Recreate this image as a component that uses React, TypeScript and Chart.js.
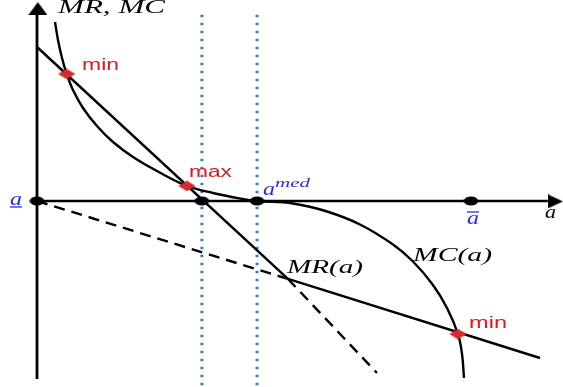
import React, { useEffect, useRef } from 'react';
import { Chart, registerables } from 'chart.js';

Chart.register(...registerables);

// ---- data (units: a-axis, ā = 10) ----
const aMarks = [0, 3.8, 5.07, 10]; // a_, MR=0 crossing, a_med, ā
const aMarksY = [0, 0, 0, 0];

const mcX = [0.415, 0.484, 0.576, 0.684, 0.829, 1.06, 1.382, 1.751, 2.212, 2.765, 3.456, 4.055, 4.677, 5.069, 5.899, 6.682, 7.442, 8.203, 8.664, 9.124, 9.447, 9.7, 9.793, 9.839];
const mcY = [4.124, 3.71, 3.295, 2.926, 2.558, 2.143, 1.728, 1.359, 1.014, 0.691, 0.346, 0.184, 0.058, 0, -0.058, -0.242, -0.541, -1.002, -1.394, -1.935, -2.465, -3.065, -3.525, -4.078];

const steepX = [0, 5.783];
const steepY = [3.548, -1.797];
const steepDashX = [5.783, 7.834];
const steepDashY = [-1.797, -3.963];
const flatDashX = [0, 5.783];
const flatDashY = [0, -1.797];
const flatX = [5.783, 11.59];
const flatY = [-1.797, -3.618];

const extremaX = [0.684, 3.456, 9.7];
const extremaY = [2.926, 0.346, -3.065];

const dottedX = [3.8, 5.07];
const dottedY = [4.29, -4.3];

const yAxisY = [-4.1, 4.36];
const xAxisX = [0, 11.77];
const upArrow = { x: 0.02, y: 4.435 };
const rightArrow = { x: 11.947, y: -0.01 };

const X_MIN = -0.8525, X_MAX = 12.12, Y_MIN = -4.286, Y_MAX = 4.631;

const pts = (xs: number[], ys: number[]) => xs.map((x, i) => ({ x, y: ys[i] }));

const RED_TXT = '#e8141c';
const BLUE_TXT = '#2b2be6';
const SERIF = '"Liberation Serif"';
const SANS = '"Liberation Sans"';

type Lbl = { t: string; x: number; y: number; w: number; font: string; color: string; over?: number; under?: number };
const labels: Lbl[] = [
  { t: 'MR, MC', x: 0.484, y: 4.332, w: 107, font: `italic 18px ${SERIF}`, color: '#000' },
  { t: 'min', x: 1.037, y: 3.018, w: 37, font: `16px ${SANS}`, color: RED_TXT },
  { t: 'max', x: 3.502, y: 0.553, w: 43, font: `16px ${SANS}`, color: RED_TXT },
  { t: 'min', x: 9.954, y: -2.926, w: 38, font: `16px ${SANS}`, color: RED_TXT },
  { t: 'MR(a)', x: 5.76, y: -1.659, w: 76, font: `italic 18px ${SERIF}`, color: '#000' },
  { t: 'MC(a)', x: 8.664, y: -1.382, w: 79, font: `italic 18px ${SERIF}`, color: '#000' },
  { t: 'a', x: 11.705, y: -0.392, w: 11, font: `italic 18px ${SERIF}`, color: '#000' },
  { t: 'a', x: 5.207, y: 0.138, w: 12, font: `italic 19px ${SERIF}`, color: BLUE_TXT },
  { t: 'med', x: 5.484, y: 0.323, w: 35, font: `italic 13px ${SERIF}`, color: BLUE_TXT },
  { t: 'a', x: 9.908, y: -0.53, w: 12, font: `italic 19px ${SERIF}`, color: BLUE_TXT, over: -0.253 },
  { t: 'a', x: -0.622, y: -0.092, w: 12, font: `italic 19px ${SERIF}`, color: BLUE_TXT, under: -0.138 },
];

function sprite(w: number, h: number, draw: (c: CanvasRenderingContext2D) => void) {
  const c = document.createElement('canvas');
  c.width = w;
  c.height = h;
  const ctx = c.getContext('2d')!;
  draw(ctx);
  return c;
}

const labelPlugin = {
  id: 'labels',
  afterDatasetsDraw(chart: any) {
    const { ctx, scales } = chart;
    labels.forEach((l) => {
      const px = scales.x.getPixelForValue(l.x);
      const py = scales.y.getPixelForValue(l.y);
      ctx.save();
      ctx.font = l.font;
      ctx.fillStyle = l.color;
      ctx.textBaseline = 'alphabetic';
      ctx.textAlign = 'left';
      const m = ctx.measureText(l.t).width;
      const sx = l.w / m;
      ctx.translate(px, py);
      ctx.scale(sx, 1);
      ctx.fillText(l.t, 0, 0);
      ctx.restore();
      const lineY = l.over !== undefined ? l.over : l.under;
      if (lineY !== undefined) {
        const ly = scales.y.getPixelForValue(lineY);
        ctx.save();
        ctx.strokeStyle = l.color;
        ctx.lineWidth = 1.3;
        ctx.beginPath();
        ctx.moveTo(px, ly);
        ctx.lineTo(px + l.w, ly);
        ctx.stroke();
        ctx.restore();
      }
    });
  },
};

export default function App() {
  const ref = useRef<HTMLCanvasElement>(null);
  useEffect(() => {
    document.body.style.margin = '0';
    const dot = sprite(15, 10, (c) => {
      c.fillStyle = '#000';
      c.beginPath();
      c.ellipse(7.5, 5, 7.2, 4.6, 0, 0, Math.PI * 2);
      c.fill();
    });
    const diamond = sprite(18, 11, (c) => {
      c.fillStyle = '#d42c2c';
      c.beginPath();
      c.moveTo(9, 0.3);
      c.lineTo(17.7, 5.5);
      c.lineTo(9, 10.7);
      c.lineTo(0.3, 5.5);
      c.closePath();
      c.fill();
    });
    const arrowUp = sprite(19, 13, (c) => {
      c.fillStyle = '#000';
      c.beginPath();
      c.moveTo(9.5, 0);
      c.lineTo(19, 13);
      c.lineTo(0, 13);
      c.closePath();
      c.fill();
    });
    const arrowRight = sprite(15, 14, (c) => {
      c.fillStyle = '#000';
      c.beginPath();
      c.moveTo(0, 0);
      c.lineTo(15, 7);
      c.lineTo(0, 14);
      c.closePath();
      c.fill();
    });

    const line = (data: any[], extra: any = {}) => ({
      type: 'line',
      data,
      borderColor: '#000',
      borderWidth: 2.4,
      pointRadius: 0,
      tension: 0,
      fill: false,
      ...extra,
    });

    const chart = new Chart(ref.current!, {
      type: 'line',
      data: {
        datasets: [
          { data: pts(extremaX, extremaY), showLine: false, pointStyle: diamond as any, pointRadius: 6 },
          { data: pts(aMarks, aMarksY), showLine: false, pointStyle: dot as any, pointRadius: 6 },
          { data: [upArrow], showLine: false, pointStyle: arrowUp as any, pointRadius: 6 },
          { data: [rightArrow], showLine: false, pointStyle: arrowRight as any, pointRadius: 6 },
          line(pts(mcX, mcY), { tension: 0.4 }),
          line(pts(steepX, steepY)),
          line(pts(steepDashX, steepDashY), { borderDash: [11, 7] }),
          line(pts(flatDashX, flatDashY), { borderDash: [11, 7] }),
          line(pts(flatX, flatY)),
          line(pts([0, 0], yAxisY), { borderWidth: 2.8 }),
          line(pts(xAxisX, [0, 0]), { borderWidth: 2.6 }),
          ...dottedX.map((x) =>
            line(pts([x, x], dottedY), { borderColor: '#2a7fd0', borderWidth: 3, borderDash: [2.5, 5.5] })
          ),
        ] as any,
      },
      options: {
        animation: false,
        responsive: false,
        maintainAspectRatio: false,
        devicePixelRatio: 1,
        layout: { padding: 0, autoPadding: false },
        scales: {
          x: { type: 'linear', min: X_MIN, max: X_MAX, display: false },
          y: { type: 'linear', min: Y_MIN, max: Y_MAX, display: false },
        },
        plugins: { legend: { display: false }, tooltip: { enabled: false } },
        elements: { point: { borderWidth: 0 } },
      },
      plugins: [labelPlugin],
    } as any);
    return () => chart.destroy();
  }, []);
  return (
    <div style={{ width: 563, height: 387, background: '#fff' }}>
      <canvas ref={ref} width={563} height={387} style={{ display: 'block' }} />
    </div>
  );
}
